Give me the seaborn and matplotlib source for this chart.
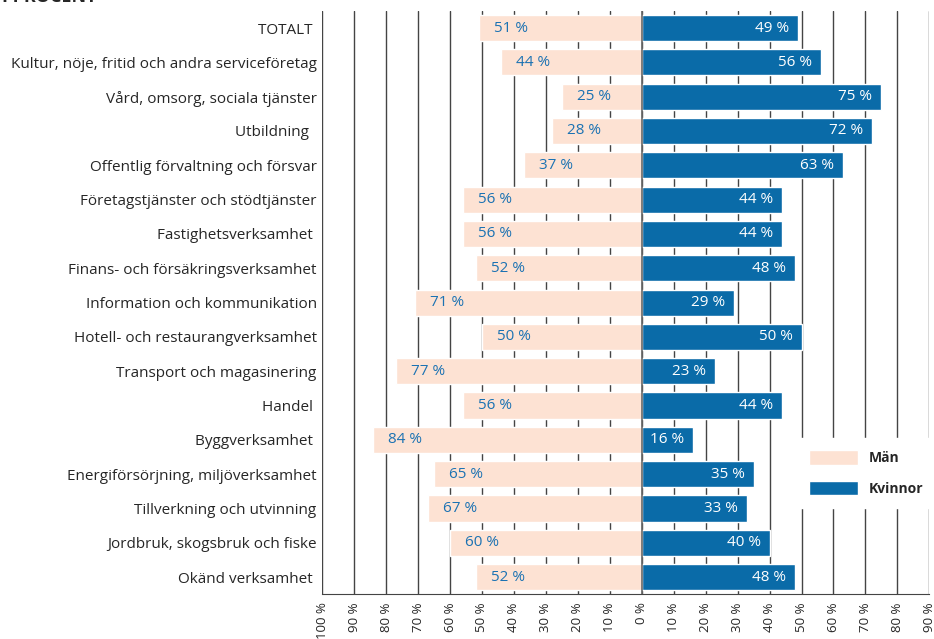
import pandas as pd
import numpy as np
import seaborn as sns
import matplotlib.pyplot as plt

# data (share in percent)
branscher = ["TOTALT ", "Kultur, nöje, fritid och andra serviceföretag",
             "Vård, omsorg, sociala tjänster", "Utbildning  ",
             "Offentlig förvaltning och försvar", "Företagstjänster och stödtjänster",
             "Fastighetsverksamhet ", "Finans- och försäkringsverksamhet",
             "Information och kommunikation", "Hotell- och restaurangverksamhet",
             "Transport och magasinering", "Handel ", "Byggverksamhet ",
             "Energiförsörjning, miljöverksamhet", "Tillverkning och utvinning",
             "Jordbruk, skogsbruk och fiske", "Okänd verksamhet "]
man = [51, 44, 25, 28, 37, 56, 56, 52, 71, 50, 77, 56, 84, 65, 67, 60, 52]
kvinnor = [49, 56, 75, 72, 63, 44, 44, 48, 29, 50, 23, 44, 16, 35, 33, 40, 48]
ticks = list(range(-100, 91, 10))

c_man = "#fde2d3"
c_kv = "#0a6ba8"
c_txt = "#1b72b3"

sns.set_style("white")
plt.rcParams["font.family"] = ["Open Sans", "DejaVu Sans"]

df = pd.DataFrame({"bransch": branscher, "Män": [-v for v in man], "Kvinnor": kvinnor})

fig = plt.figure(figsize=(9.34, 6.39), dpi=100)
ax = fig.add_axes([0.345, 0.07, 0.65, 0.913])

# vertical grid behind the bars
for x in ticks:
    ax.axvline(x, color="#444444", lw=1, zorder=0)

sns.barplot(data=df, y="bransch", x="Män", color=c_man, orient="h", width=0.76,
            ax=ax, label="Män", zorder=2, saturation=1)
sns.barplot(data=df, y="bransch", x="Kvinnor", color=c_kv, orient="h", width=0.76,
            ax=ax, label="Kvinnor", zorder=2, saturation=1)
ax.axvline(0, color="#666666", lw=1.2, zorder=3)

for i, (m, k) in enumerate(zip(man, kvinnor)):
    ax.text(-m + 4.7, i, f"{m} %", ha="left", va="center", color=c_txt, fontsize=11, zorder=4)
    ax.text(k - 2.8, i, f"{k} %", ha="right", va="center", color="white", fontsize=11, zorder=4)

ax.set_xlim(-100, 90)
ax.set_ylim(16.5, -0.5)
ax.set_xticks(ticks)
ax.set_xticklabels([f"{abs(t)} %" for t in ticks], rotation=90, fontsize=9.5)
ax.tick_params(axis="x", direction="inout", length=8, width=1, color="#444444", pad=2)
ax.tick_params(axis="y", length=0, labelsize=11, pad=4)
ax.set_xlabel("")
ax.set_ylabel("")
for s in ["top", "left", "right"]:
    ax.spines[s].set_visible(False)
ax.spines["bottom"].set_color("#444444")

leg = ax.legend(loc="upper left", bbox_to_anchor=(0.77, 0.28), frameon=True,
                fancybox=False, edgecolor="white", framealpha=1,
                prop={"weight": "bold", "size": 10}, handlelength=3.5,
                handleheight=1.2, labelspacing=1.15, borderpad=0.9)
leg.set_zorder(5)

fig.text(0.002, 1.005, "I PROCENT", fontsize=13, fontweight="bold", va="center", ha="left")

fig.savefig("out.png", dpi=100)
